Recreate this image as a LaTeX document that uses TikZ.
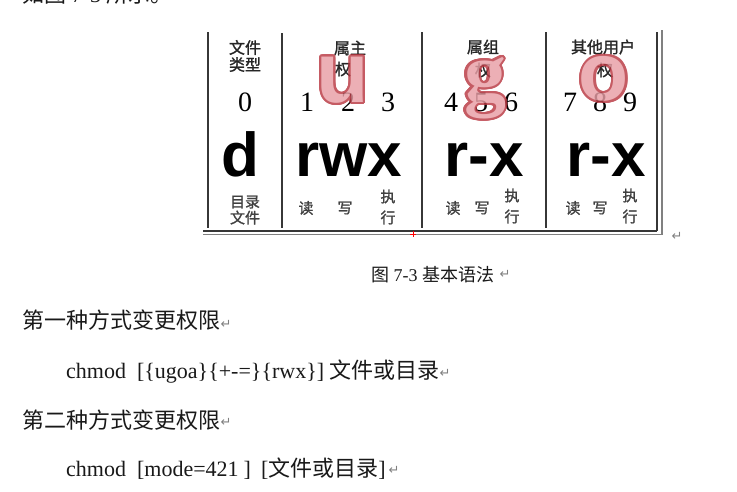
\documentclass[tikz,border=0pt]{standalone}
\usepackage{fontspec}
\setmainfont{Liberation Serif}
\newfontfamily\cjk{Noto Sans CJK SC}
\newfontfamily\cjkb[FakeBold=1.2]{Noto Sans CJK SC}
\newfontfamily\bigsf{Liberation Sans}
\newfontfamily\symf{DejaVu Sans}
\usetikzlibrary{calc}
\definecolor{outl}{RGB}{185,55,65}
\definecolor{pinkf}{RGB}{232,158,165}
\definecolor{rulec}{RGB}{55,55,55}
\newcommand{\outlinedletter}[5]{%
  \begin{scope}[transparency group, opacity=0.82]
    \foreach \a in {0,15,...,345}{
      \node[inner sep=0, text=outl, font=#4] at ($(#2,#3)+(\a:2.1)$) {#5};
    }
    \node[inner sep=0, text=pinkf, font=#4] (#1) at (#2,#3) {#5};
  \end{scope}}
\tikzset{
  hd/.style={inner sep=0, font=\cjkb\fontsize{16}{17}\selectfont, align=center, text=black!85},
  lb/.style={inner sep=0, font=\cjkb\fontsize{15}{16}\selectfont, align=center, text=black!75},
  lbx/.style={inner sep=0, font=\cjkb\fontsize{15}{21}\selectfont, align=center, text=black!75},
  dg/.style={inner sep=0, anchor=base, font=\fontsize{28}{28}\selectfont},
  big/.style={inner sep=0, anchor=base, font=\bigsf\bfseries\fontsize{62}{62}\selectfont},
  rule/.style={draw=rulec, line width=1.6pt},
  ret/.style={inner sep=0, font=\symf\fontsize{13}{13}\selectfont, text=gray},
  body/.style={inner sep=0, anchor=base west, font=\fontsize{22}{26}\selectfont, text=black!90},
}
\begin{document}
\begin{tikzpicture}[x=1pt, y=-1pt]
\clip (0,0) rectangle (737,491);
\fill[white] (0,0) rectangle (737,491);
\useasboundingbox (0,0) rectangle (737,491);

% partially visible top line
\node[body] (t0) at (22,2) {{\cjk 如图} 7-3 {\cjk 所示。}};

% table rules
\draw[rule] (208,32) -- (208,228);
\draw[rule] (282,33) -- (282,228);
\draw[rule] (422,32) -- (422,228);
\draw[rule] (546,32) -- (546,228);
\draw[rule] (657,32) -- (657,231);
\draw[draw=gray, line width=1.6pt] (662,30) -- (662,235);
\draw[draw=rulec, line width=1.4pt] (203,231) -- (657,231);
\draw[draw=gray, line width=1.4pt] (203,234.5) -- (663,234.5);
\draw[red, line width=0.8pt] (410,234) -- (416,234) (413,231) -- (413,237);

% headers
\node[hd] (h0) at (245,56) {文件\\类型};
\node[hd] (h1) at (350,48) {属主};
\node[hd] (h1b) at (343,69) {权};
\node[hd] (h2) at (483,47) {属组};
\node[hd] (h2b) at (483,70) {权};
\node[hd] (h3) at (603,47) {其他用户};
\node[hd] (h3b) at (605,70) {权};

% digits
\node[dg] (n0) at (245,111) {0};
\node[dg] (n1) at (307,111) {1};
\node[dg] (n2) at (348,111) {2};
\node[dg] (n3) at (388,111) {3};
\node[dg] (n4) at (451,111) {4};
\node[dg] (n5) at (481,111) {5};
\node[dg] (n6) at (511,111) {6};
\node[dg] (n7) at (570,111) {7};
\node[dg] (n8) at (600,111) {8};
\node[dg] (n9) at (630,111) {9};

% big letters
\node[big] (bd) at (240,176) {d};
\node[big] (bu) at (349,176) {rwx};
\node[big] (bg) at (484,176) {r-x};
\node[big] (bo) at (606,176) {r-x};

% bottom labels
\node[lb] (b0) at (245,210) {目录\\文件};
\node[lb] (r1) at (306,208) {读};
\node[lb] (w1) at (345,208) {写};
\node[lbx] (x1) at (388,207) {执\\行};
\node[lb] (r2) at (453,208) {读};
\node[lb] (w2) at (482,208) {写};
\node[lbx] (x2) at (512,206) {执\\行};
\node[lb] (r3) at (573,208) {读};
\node[lb] (w3) at (600,208) {写};
\node[lbx] (x3) at (630,206) {执\\行};

% pink overlay letters
\outlinedletter{pu}{343}{80}{\bigsf\bfseries\fontsize{86}{86}\selectfont}{u}
\outlinedletter{pg}{485}{88}{\bfseries\fontsize{84}{84}\selectfont}{g}
\outlinedletter{po}{604}{79}{\bigsf\bfseries\fontsize{82}{82}\selectfont}{o}

\node[ret] (m0) at (677,236) {↵};

% caption
\node[body, font=\fontsize{18}{20}\selectfont] (cap) at (371,281) {{\cjk 图} 7-3 {\cjk 基本语法}};
\node[ret] (m1) at (505,274) {↵};

% body text
\node[body] (t1) at (22,328) {\cjk 第一种方式变更权限};
\node[ret] (m2) at (226,324) {↵};
\node[body] (t2) at (66,378) {chmod\hspace{11pt}[\{ugoa\}\{+-=\}\{rwx\}]\hspace{5pt}{\cjk 文件或目录}};
\node[ret] (m3) at (445,373) {↵};
\node[body] (t3) at (22,428) {\cjk 第二种方式变更权限};
\node[ret] (m4) at (226,422) {↵};
\node[body] (t4) at (66,476) {chmod\hspace{11pt}[mode=421\hspace{5pt}]\hspace{10pt}[{\cjk 文件或目录}]};
\node[ret] (m5) at (394,470) {↵};
\end{tikzpicture}
\end{document}
